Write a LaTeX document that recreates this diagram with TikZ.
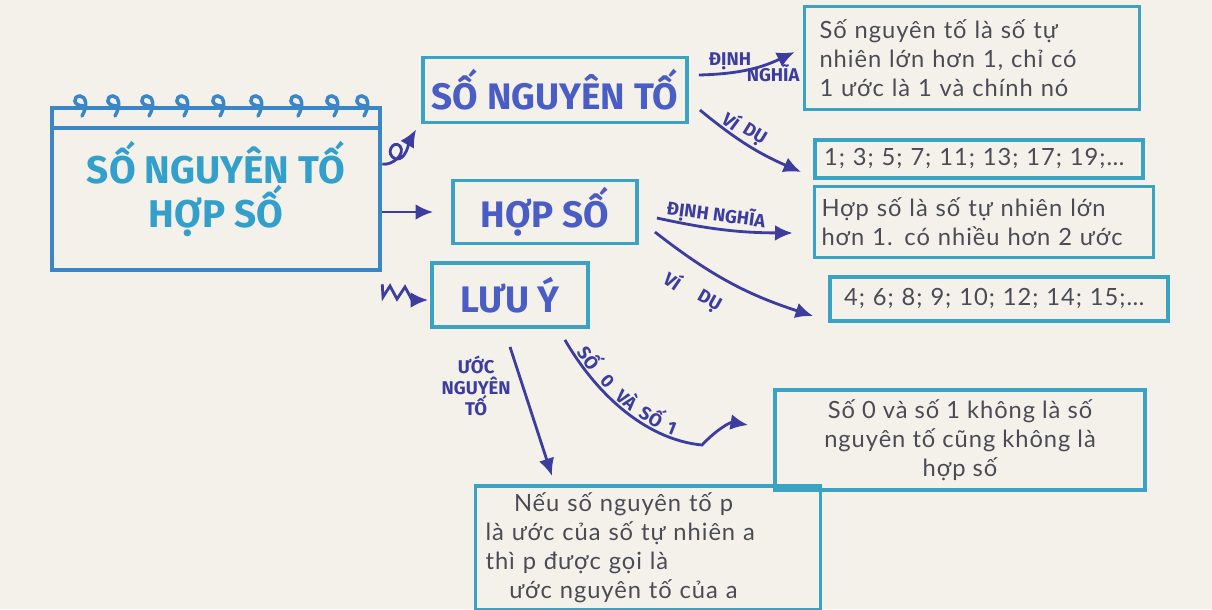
\documentclass[tikz,border=0pt]{standalone}
\usepackage{fontspec}
\setmainfont{Lato}[LetterSpace=4]
\newfontfamily\capsfont{Fira Sans}
\usetikzlibrary{arrows.meta,calc,positioning}
\definecolor{paper}{HTML}{F3F1EA}
\definecolor{mapteal}{HTML}{3AA3C4}
\definecolor{mapblue}{HTML}{3B86C6}
\definecolor{mainink}{HTML}{33A0CC}
\definecolor{mapink}{HTML}{3C3D9E}
\definecolor{headink}{HTML}{4A5DC4}
\definecolor{notegray}{HTML}{4B4B55}

\begin{document}
\begin{tikzpicture}[x=0.02cm, y=-0.02cm,
    topicbox/.style={draw=mapteal, line width=2.2pt, inner sep=2pt,
                     font=\capsfont\bfseries\fontsize{21}{24}\selectfont, text=headink},
    notebox/.style={draw=mapteal, line width=2.2pt, inner sep=4pt,
                    font=\fontsize{13.5}{16.5}\selectfont, text=notegray},
    link/.style={-{Latex[length=10pt,width=9pt]}, line width=1.6pt, mapink},
    linklabel/.style={font=\capsfont\bfseries\fontsize{10.5}{12}\selectfont,
                      text=mapink, inner sep=1pt},
    ring/.style={mapblue, line width=2pt, line cap=round},
]
\useasboundingbox[fill=paper] (0,0) rectangle (1212,609);

% Central notebook box
\node[draw=mapblue, line width=2.6pt, minimum width=6.56cm, minimum height=3.24cm,
      align=center, text=mainink,
      font=\capsfont\bfseries\fontsize{22}{25}\selectfont] (main) at (216,189)
  {SỐ NGUYÊN TỐ\\HỢP SỐ};
\draw[mapblue, line width=2.4pt] ([yshift=-0.44cm]main.north west)
  -- ([yshift=-0.44cm]main.north east);
\foreach \x in {80,113,147,182,218,256,296,332,362}
  \draw[ring] ({\x+2},116) .. controls ({\x+8},106) and ({\x+6},96) .. ({\x},96)
    .. controls ({\x-7},96) and ({\x-8},106) .. ({\x+4},106);

% Topics
\node[topicbox, minimum width=5.28cm, minimum height=1.3cm] (prime) at (555,90) {SỐ NGUYÊN TỐ};
\node[topicbox, minimum width=3.68cm, minimum height=1.26cm] (composite) at (545,212) {HỢP SỐ};
\node[topicbox, minimum width=3.12cm, minimum height=1.28cm] (note) at (510,295) {LƯU Ý};

% Notes
\node[notebox, minimum width=6.7cm, minimum height=2.06cm, text width=6.1cm, align=left]
  (primedef) at (972,58)
  {Số nguyên tố là số tự\\nhiên lớn hơn 1, chỉ có\\1 ước là 1 và chính nó};
\node[notebox, minimum width=6.56cm, minimum height=0.76cm, text width=6.2cm, align=left]
  (primeex) at (979,159) {1; 3; 5; 7; 11; 13; 17; 19;\dots};
\node[notebox, minimum width=6.76cm, minimum height=1.42cm, text width=6.5cm, align=left]
  (compdef) at (984,222) {Hợp số là số tự nhiên lớn\\hơn 1. có nhiều hơn 2 ước};
\node[notebox, minimum width=6.76cm, minimum height=0.88cm, text width=6.2cm, align=left]
  (compex) at (999,299) {4; 6; 8; 9; 10; 12; 14; 15;\dots};
\node[notebox, minimum width=7.4cm, minimum height=2cm, align=center] (zeroone) at (960,440)
  {Số 0 và số 1 không là số\\nguyên tố cũng không là\\hợp số};
\node[notebox, minimum width=6.9cm, minimum height=2.3cm, text width=6.5cm, align=left]
  (divisor) at (648,548)
  {\hspace{1.2em}Nếu số nguyên tố p\\là ước của số tự nhiên a\\thì p được gọi là\\\hspace{1em}ước nguyên tố của a};

% Main to topics
\draw[link] ([yshift=0.5cm]main.east) .. controls (392,166) and (406,154) .. (400,146)
  .. controls (393,139) and (384,155) .. (396,159)
  .. controls (406,161) and (410,140) .. ([shift={(-0.1cm,-0.1cm)}]prime.south west);
\draw[link] (main.east |- composite.west) -- ([xshift=-0.36cm]composite.west);
\draw[link] ([yshift=-0.24cm]main.south east) -- (383,297) -- (390,286) -- (397,299)
  -- (405,287) -- (412,300) -- ([xshift=-0.04cm,yshift=-0.1cm]note.west);

% Topics to notes
\draw[link] ([shift={(0.2cm,0.3cm)}]prime.east) to[bend right=12]
  node[linklabel, pos=0.3, above] {ĐỊNH}
  node[linklabel, pos=0.78, below] {NGHĨA}
  ([shift={(-0.16cm,0.12cm)}]primedef.west);
\draw[link] ([shift={(0.22cm,-0.4cm)}]prime.east) to[bend right=8]
  node[linklabel, pos=0.25, above, sloped] {VÍ}
  node[linklabel, pos=0.5, above, sloped] {DỤ}
  ([shift={(-0.24cm,-0.26cm)}]primeex.west);
\draw[link] ([shift={(0.36cm,-0.12cm)}]composite.east) to[bend right=6]
  node[linklabel, pos=0.42, above, sloped] {ĐỊNH NGHĨA}
  ([shift={(-0.4cm,-0.22cm)}]compdef.west);
\draw[link] ([shift={(0.32cm,-0.4cm)}]composite.east) to[bend right=10]
  node[linklabel, pos=0.22, below=9pt, sloped] {VÍ}
  node[linklabel, pos=0.45, below=9pt, sloped] {DỤ}
  ([shift={(-0.3cm,-0.34cm)}]compex.west);
\draw[link] ([yshift=-0.36cm]note.south) --
  node[linklabel, pos=0.3, left=5pt, align=center] {ƯỚC\\NGUYÊN\\TỐ}
  ([shift={(-1.92cm,0.16cm)}]divisor.north);
\draw[link] ([shift={(-0.5cm,-0.22cm)}]note.south east) .. controls (600,400) and (650,440) ..
  node[linklabel, pos=0.14, above, sloped] {SỐ}
  node[linklabel, pos=0.3, above, sloped] {0}
  node[linklabel, pos=0.45, above, sloped] {VÀ}
  node[linklabel, pos=0.63, above, sloped] {SỐ}
  node[linklabel, pos=0.78, above, sloped] {1}
  (702,445) .. controls (716,430) and (730,422) .. ([shift={(-0.5cm,0.3cm)}]zeroone.west);
\end{tikzpicture}
\end{document}
